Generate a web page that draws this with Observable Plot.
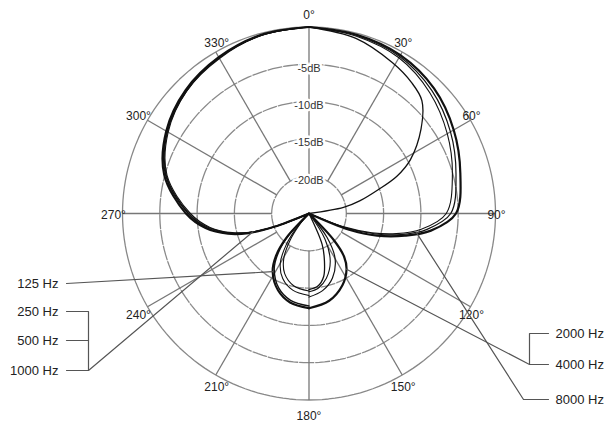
<!DOCTYPE html>
<html><head><meta charset="utf-8">
<script src="https://cdn.jsdelivr.net/npm/d3@7"></script>
<script src="https://cdn.jsdelivr.net/npm/@observablehq/plot@0.6"></script>
<style>
html,body{margin:0;padding:0;background:#fff}
#chart svg{display:block}
</style>
</head><body><div id="chart"></div>
<script>
// ---- data (angle in degrees clockwise from 0°, level in dB) ----
const spokeAngles = [0, 30, 60, 90, 120, 150, 180, 210, 240, 270, 300, 330];
const ringLevels = [0, -5, -10, -15, -20];
const dbLabels = [-5, -10, -15, -20];

// left half: low frequencies
const hz125 = [[180,-12.3],[192,-12.8],[202,-13.9],[212,-15.8],[218,-17.8],[223,-20.5],[228,-25],[246,-25],[249,-20],[252,-16.5],[256,-13.8],[262,-11],[270,-8.5],[285,-4.9],[300,-2.9],[315,-1.6],[330,-0.8],[345,-0.2],[360,0]];
const hz250 = [[180,-12.6],[192,-13.1],[202,-14.2],[212,-16.2],[218,-18.3],[223,-21],[227,-25],[246,-25],[249,-20.3],[252,-16.8],[256,-14],[262,-11.2],[270,-8.8],[285,-5.1],[300,-3.0],[315,-1.7],[330,-0.9],[345,-0.25],[360,0]];
const hz500 = [[180,-14.0],[192,-14.5],[202,-15.6],[210,-17.3],[216,-19.8],[221,-22.5],[225,-25],[245,-25],[248.5,-20.5],[252,-16.9],[256,-14.2],[262,-11.4],[270,-8.9],[285,-5.2],[300,-3.1],[315,-1.8],[330,-0.9],[345,-0.3],[360,0]];
const hz1000 = [[180,-14.6],[192,-15.1],[202,-16.3],[209,-18],[215,-20.5],[220,-23],[224,-25],[245,-25],[248.5,-20.8],[252,-17.1],[256,-14.4],[262,-11.6],[270,-9.1],[285,-5.3],[300,-3.2],[315,-1.8],[330,-1.0],[345,-0.3],[360,0]];

// right half: high frequencies
const hz2000 = [[0,0],[15,-0.2],[30,-0.5],[45,-1.3],[60,-2.6],[75,-4.0],[90,-5.3],[98,-8.5],[103,-11.8],[108,-15.4],[112,-19.2],[118,-25],[130,-25],[137,-20.1],[141,-17.5],[146,-16],[155,-14.4],[167,-13],[180,-12.3]];
const hz4000 = [[0,0],[15,-0.3],[30,-0.7],[45,-1.7],[60,-3.1],[75,-4.6],[90,-6.0],[98,-9.2],[100,-10.4],[103,-12.4],[107,-15.6],[111,-19.4],[116,-25],[136,-25],[143,-21],[150,-18],[160,-15.8],[170,-14.5],[180,-13.8]];
const hzMid = [[0,0],[15,-0.4],[30,-0.9],[45,-2.1],[60,-3.6],[75,-5.1],[90,-6.6],[98,-9.8],[103,-13],[107,-16.2],[111,-20],[115,-25],[140,-25],[148,-21],[156,-18],[165,-16],[173,-14.9],[180,-14.5]];
const hz8000 = [[0,0],[15,-0.7],[29,-1.9],[38,-2.7],[45,-3.6],[53,-6.2],[62,-9.6],[67,-12.2],[71,-15.2],[76,-18],[80,-20.3],[86,-25],[150,-25],[157,-20.5],[162,-18.3],[167,-16.3],[173,-15.2],[180,-14.8]];

const curves = [
  {name: "125 Hz", data: hz125, width: 2.1},
  {name: "250 Hz", data: hz250, width: 1.4},
  {name: "500 Hz", data: hz500, width: 1.1},
  {name: "1000 Hz", data: hz1000, width: 1.1},
  {name: "2000 Hz", data: hz2000, width: 2.2},
  {name: "4000 Hz", data: hz4000, width: 1.2},
  {name: "mid", data: hzMid, width: 1.1},
  {name: "8000 Hz", data: hz8000, width: 1.3}
];

const leftLabels = ["125 Hz", "250 Hz", "500 Hz", "1000 Hz"];
const rightLabels = ["2000 Hz", "4000 Hz", "8000 Hz"];

// ---- geometry ----
const W = 612, H = 423, CX = 308.5, CY = 213, R = 186.5, DBMIN = -25;
const rad = db => Math.max(0, (db - DBMIN) / -DBMIN);
const toR = a => a * Math.PI / 180;
const px = (a, db) => rad(db) * Math.sin(toR(a));
const py = (a, db) => rad(db) * Math.cos(toR(a));
const fx = p => (p - CX) / R;   // page px -> plot units (layout helpers)
const fy = p => (CY - p) / R;
const onCurve = (series, ang) => {
  const d = series.find(p => p[0] === ang);
  return [px(d[0], d[1]), py(d[0], d[1])];
};

// angle label placement (layout)
const sinA = a => Math.sin(toR(a)), cosA = a => Math.cos(toR(a));
const side = a => Math.abs(sinA(a)) < 0.01 ? "middle" : (sinA(a) > 0 ? "start" : "end");
const labX = a => {
  const s = side(a);
  if (s === "middle") return 0;
  if (s === "start") return sinA(a) + 1 / R;
  return sinA(a) + (Math.abs(sinA(a)) > 0.7 ? -9 : 1) / R;
};
const labY = a => {
  if (side(a) === "middle") return cosA(a) > 0 ? 1 + 12 / R : -(1 + 16 / R);
  return cosA(a) + (12 * cosA(a) - 2) / R;
};

// ---- grid ----
const ringData = ringLevels.flatMap(l => d3.range(0, 361, 2).map(a => ({l, a})));

const curveMarks = curves.map(c => Plot.line(c.data, {
  x: d => px(d[0], d[1]), y: d => py(d[0], d[1]),
  curve: "catmull-rom", stroke: "#111", strokeWidth: c.width
}));

// ---- leader lines ----
const leftY = [283, 311, 340, 370];
const rightY = [333, 364, 399];
const leaders = [
  [[fx(66), fy(leftY[0])], onCurve(hz125, 212)],
  [[fx(66), fy(leftY[1])], [fx(88), fy(leftY[1])], [fx(88), fy(leftY[3])]],
  [[fx(66), fy(leftY[2])], [fx(88), fy(leftY[2])]],
  [[fx(66), fy(leftY[3])], [fx(88), fy(leftY[3])], onCurve(hz1000, 252)],
  [[fx(548), fy(rightY[0])], [fx(529), fy(rightY[0])], [fx(529), fy(rightY[1])]],
  [[fx(548), fy(rightY[1])], [fx(529), fy(rightY[1])], onCurve(hz2000, 146)],
  [[fx(548), fy(rightY[2])], [fx(523), fy(rightY[2])], onCurve(hz4000, 100)]
].flatMap((pts, i) => pts.map(p => ({i, x: p[0], y: p[1]})));

const chart = Plot.plot({
  width: W, height: H,
  marginTop: 0, marginRight: 0, marginBottom: 0, marginLeft: 0,
  x: {domain: [fx(0), fx(W)], axis: null},
  y: {domain: [fy(H), fy(0)], axis: null},
  style: {fontFamily: "'Liberation Sans', Arial, sans-serif", background: "#fff"},
  marks: [
    Plot.line(ringData.filter(d => d.l === 0), {x: d => px(d.a, d.l), y: d => py(d.a, d.l), stroke: "#888", strokeWidth: 1.3}),
    Plot.line(ringData.filter(d => d.l !== 0), {x: d => px(d.a, d.l), y: d => py(d.a, d.l), z: "l", stroke: "#8a8a8a", strokeWidth: 1.3, strokeDasharray: "14,2"}),
    Plot.link(spokeAngles, {x1: a => px(a, -20), y1: a => py(a, -20), x2: a => px(a, 0), y2: a => py(a, 0), stroke: "#777", strokeWidth: 1.3}),
    Plot.text(dbLabels, {x: () => 0, y: d => rad(d), dy: 4, text: d => `${d}dB`, fontSize: 11, fill: "#333", stroke: "#fff", strokeWidth: 5}),
    ...curveMarks,
    Plot.text(spokeAngles, {x: labX, y: labY, text: a => `${a}°`, textAnchor: side, fontSize: 12, fill: "#222"}),
    Plot.line(leaders, {x: "x", y: "y", z: "i", stroke: "#555", strokeWidth: 1.2}),
    Plot.text(leftLabels, {x: () => fx(58), y: (d, i) => fy(leftY[i]), text: d => d, textAnchor: "end", fontSize: 13, fill: "#222"}),
    Plot.text(rightLabels, {x: () => fx(555), y: (d, i) => fy(rightY[i]), text: d => d, textAnchor: "start", fontSize: 13, fill: "#222"})
  ]
});
document.getElementById("chart").append(chart);
</script>
</body></html>
